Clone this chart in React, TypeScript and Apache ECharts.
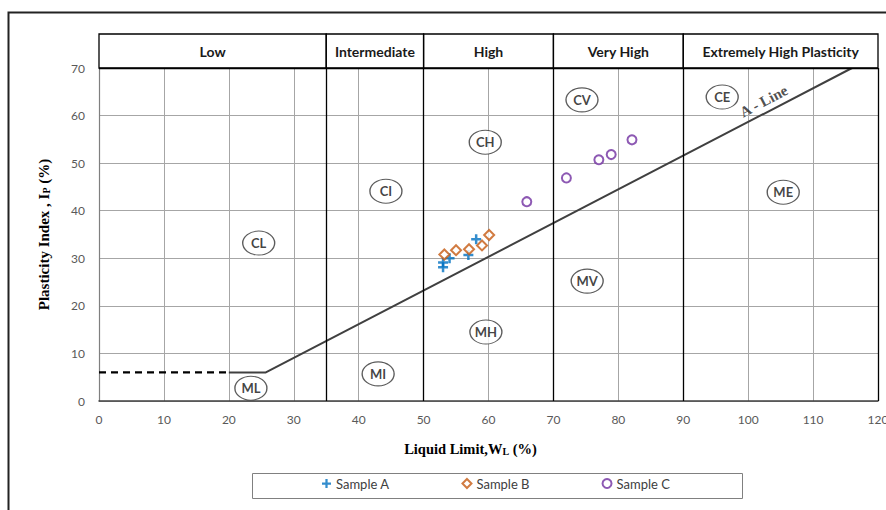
import React, { useEffect, useRef } from "react";
import * as echarts from "echarts";

// Plasticity zones along the liquid limit axis
const LL_ZONES = [0, 35, 50, 70, 90, 120];
const ZONE_NAMES = ["Low", "Intermediate", "High", "Very High", "Extremely High Plasticity"];
const DIVIDERS = [35, 50, 70, 90, 120];

// Sample data [LL, PI]
const SAMPLE_A = [
  [53.0, 28.1],
  [53.0, 29.1],
  [54.0, 30.0],
  [56.9, 30.7],
  [58.1, 34.0],
];
const SAMPLE_B = [
  [53.2, 30.8],
  [55.0, 31.7],
  [57.0, 31.9],
  [59.0, 32.7],
  [60.1, 34.9],
];
const SAMPLE_C = [
  [65.9, 41.9],
  [72.0, 46.9],
  [77.0, 50.7],
  [78.9, 51.8],
  [82.1, 54.9],
];

// A-line and dashed lower boundary
const DASH_LINE = [
  [0, 6],
  [20, 6],
];
const A_LINE = [
  [20, 6],
  [25.7, 6],
  [116, 70],
];
const A_LINE_LABEL = [102.4, 63.0];

// Zone symbol labels [LL, PI, name]
const ZONE_LABELS: [number, number, string][] = [
  [24.6, 33.2, "CL"],
  [44.2, 44.1, "CI"],
  [59.5, 54.4, "CH"],
  [74.4, 63.3, "CV"],
  [96.0, 63.9, "CE"],
  [105.4, 43.9, "ME"],
  [75.2, 25.2, "MV"],
  [59.6, 14.5, "MH"],
  [43.0, 5.7, "MI"],
  [23.4, 2.7, "ML"],
];

const PLUS = "path://M3,0 H5 V3 H8 V5 H5 V8 H3 V5 H0 V3 H3 Z";
const ELLIPSE = "path://M0,50 A50,50 0 1 1 100,50 A50,50 0 1 1 0,50 Z";

export default function App() {
  const ref = useRef<HTMLDivElement>(null);
  useEffect(() => {
    if (!ref.current) return;
    const chart = echarts.init(ref.current, null, { renderer: "svg" });
    const serifBold = { fontFamily: "Liberation Serif", fontWeight: "bold" as const, color: "#000" };
    const option: any = {
      animation: false,
      backgroundColor: "#fff",
      textStyle: { fontFamily: "Lato" },
      grid: [
        { left: 99, top: 68, width: 779, height: 333, outerBoundsMode: "none", containLabel: false },
        { left: 99, top: 34, width: 779, height: 34, outerBoundsMode: "none", containLabel: false },
      ],
      xAxis: [
        {
          gridIndex: 0,
          type: "value",
          min: 0,
          max: 120,
          interval: 10,
          axisLine: { show: true, onZero: false, lineStyle: { color: "#404040", width: 1.5 } },
          axisTick: { show: false },
          axisLabel: { color: "#595959", fontSize: 12, margin: 12, fontFamily: "Lato" },
          splitLine: { show: true, lineStyle: { color: "#a6a6a6", width: 1 } },
          name: "{a|Liquid Limit,W}{s|L}{a| (%)}",
          nameLocation: "middle",
          nameGap: 40,
          nameTextStyle: {
            padding: [0, 36, 0, 0],
            rich: {
              a: { ...serifBold, fontSize: 14.5 },
              s: { ...serifBold, fontSize: 10, verticalAlign: "bottom", padding: [5, 0, 0, 0] },
            },
          },
        },
        { gridIndex: 1, type: "value", min: 0, max: 120, show: false },
      ],
      yAxis: [
        {
          gridIndex: 0,
          type: "value",
          min: 0,
          max: 70,
          interval: 10,
          axisLine: { show: true, lineStyle: { color: "#7f7f7f", width: 1.2 } },
          axisTick: { show: false },
          axisLabel: { color: "#595959", fontSize: 12, margin: 14, fontFamily: "Lato" },
          splitLine: { show: true, lineStyle: { color: "#a6a6a6", width: 1 } },
          name: "{a|Plasticity Index , I}{s|P}{a| (%)}",
          nameLocation: "middle",
          nameGap: 48,
          nameTextStyle: {
            padding: [0, 0, 0, 0],
            rich: {
              a: { ...serifBold, fontSize: 15 },
              s: { ...serifBold, fontSize: 10, verticalAlign: "bottom", padding: [5, 0, 0, 0] },
            },
          },
        },
        { gridIndex: 1, type: "value", min: 0, max: 1, show: false },
      ],
      legend: {
        data: ["Sample A", "Sample B", "Sample C"],
        left: 322,
        top: 477,
        padding: 0,
        itemWidth: 9,
        itemHeight: 9,
        itemGap: 72,
        textStyle: { fontFamily: "Lato", fontSize: 13, color: "#404040" },
      },
      graphic: [
        {
          type: "rect",
          left: 6,
          top: 10,
          shape: { width: 920, height: 560 },
          style: { fill: "none", stroke: "#222", lineWidth: 2 },
          silent: true,
        },
        {
          type: "rect",
          left: 250,
          top: 471,
          shape: { width: 490, height: 25 },
          style: { fill: "none", stroke: "#808080", lineWidth: 1 },
          silent: true,
        },
      ],
      series: [
        {
          type: "custom",
          xAxisIndex: 1,
          yAxisIndex: 1,
          data: ZONE_NAMES.map((_, i) => [LL_ZONES[i], LL_ZONES[i + 1]]),
          encode: { x: [0, 1] },
          renderItem: (params: any, api: any) => {
            const s = api.coord([api.value(0), 1]);
            const e = api.coord([api.value(1), 0]);
            return {
              type: "group",
              children: [
                {
                  type: "rect",
                  shape: { x: s[0], y: s[1], width: e[0] - s[0], height: e[1] - s[1] },
                  style: { fill: "none", stroke: "#000", lineWidth: 1.3 },
                },
                {
                  type: "text",
                  style: {
                    text: ZONE_NAMES[params.dataIndex],
                    x: (s[0] + e[0]) / 2,
                    y: (s[1] + e[1]) / 2,
                    align: "center",
                    verticalAlign: "middle",
                    fontFamily: "Lato",
                    fontWeight: "bold",
                    fontSize: 14,
                    fill: "#1a1a1a",
                  },
                },
              ],
            };
          },
          silent: true,
        },
        {
          name: "dividers",
          type: "line",
          data: [],
          markLine: {
            silent: true,
            symbol: ["none", "none"],
            label: { show: false },
            lineStyle: { color: "#000", type: "solid", width: 1.3 },
            data: [...DIVIDERS.map((v) => ({ xAxis: v })), { yAxis: 70 }],
          },
        },
        {
          name: "dash",
          type: "line",
          data: DASH_LINE,
          symbol: "none",
          lineStyle: { color: "#000", width: 2.2, type: [7, 5] },
          z: 4,
        },
        {
          name: "A-Line",
          type: "line",
          data: A_LINE,
          symbol: "none",
          lineStyle: { color: "#404040", width: 2 },
          z: 4,
        },
        {
          name: "A-Line label",
          type: "scatter",
          data: [{ value: A_LINE_LABEL, name: "A - Line" }],
          symbolSize: 0,
          label: {
            show: true,
            position: "inside",
            formatter: "{b}",
            rotate: 27.7,
            fontFamily: "Liberation Serif",
            fontWeight: "bold",
            fontSize: 15,
            color: "#222",
          },
          z: 6,
        },
        {
          name: "zones",
          type: "scatter",
          data: ZONE_LABELS.map((z) => ({ value: [z[0], z[1]], name: z[2] })),
          symbol: ELLIPSE,
          symbolSize: [32, 24],
          itemStyle: { color: "#fff", borderColor: "#333", borderWidth: 1.2 },
          label: {
            show: true,
            position: "inside",
            formatter: "{b}",
            fontFamily: "Lato",
            fontWeight: "bold",
            fontSize: 13,
            color: "#111",
          },
          z: 5,
        },
        {
          name: "Sample A",
          type: "scatter",
          data: SAMPLE_A,
          symbol: PLUS,
          symbolSize: 10,
          itemStyle: { color: "#0070C0" },
          z: 7,
        },
        {
          name: "Sample B",
          type: "scatter",
          data: SAMPLE_B,
          symbol: "diamond",
          symbolSize: 10,
          itemStyle: { color: "#fff", borderColor: "#C55A11", borderWidth: 2 },
          z: 7,
        },
        {
          name: "Sample C",
          type: "scatter",
          data: SAMPLE_C,
          symbol: "circle",
          symbolSize: 9,
          itemStyle: { color: "#fff", borderColor: "#7030A0", borderWidth: 2 },
          z: 7,
        },
      ],
    };
    chart.setOption(option);
    return () => chart.dispose();
  }, []);
  return (
    <div
      ref={ref}
      style={{ position: "fixed", left: 0, top: 0, width: 886, height: 510 }}
    />
  );
}
